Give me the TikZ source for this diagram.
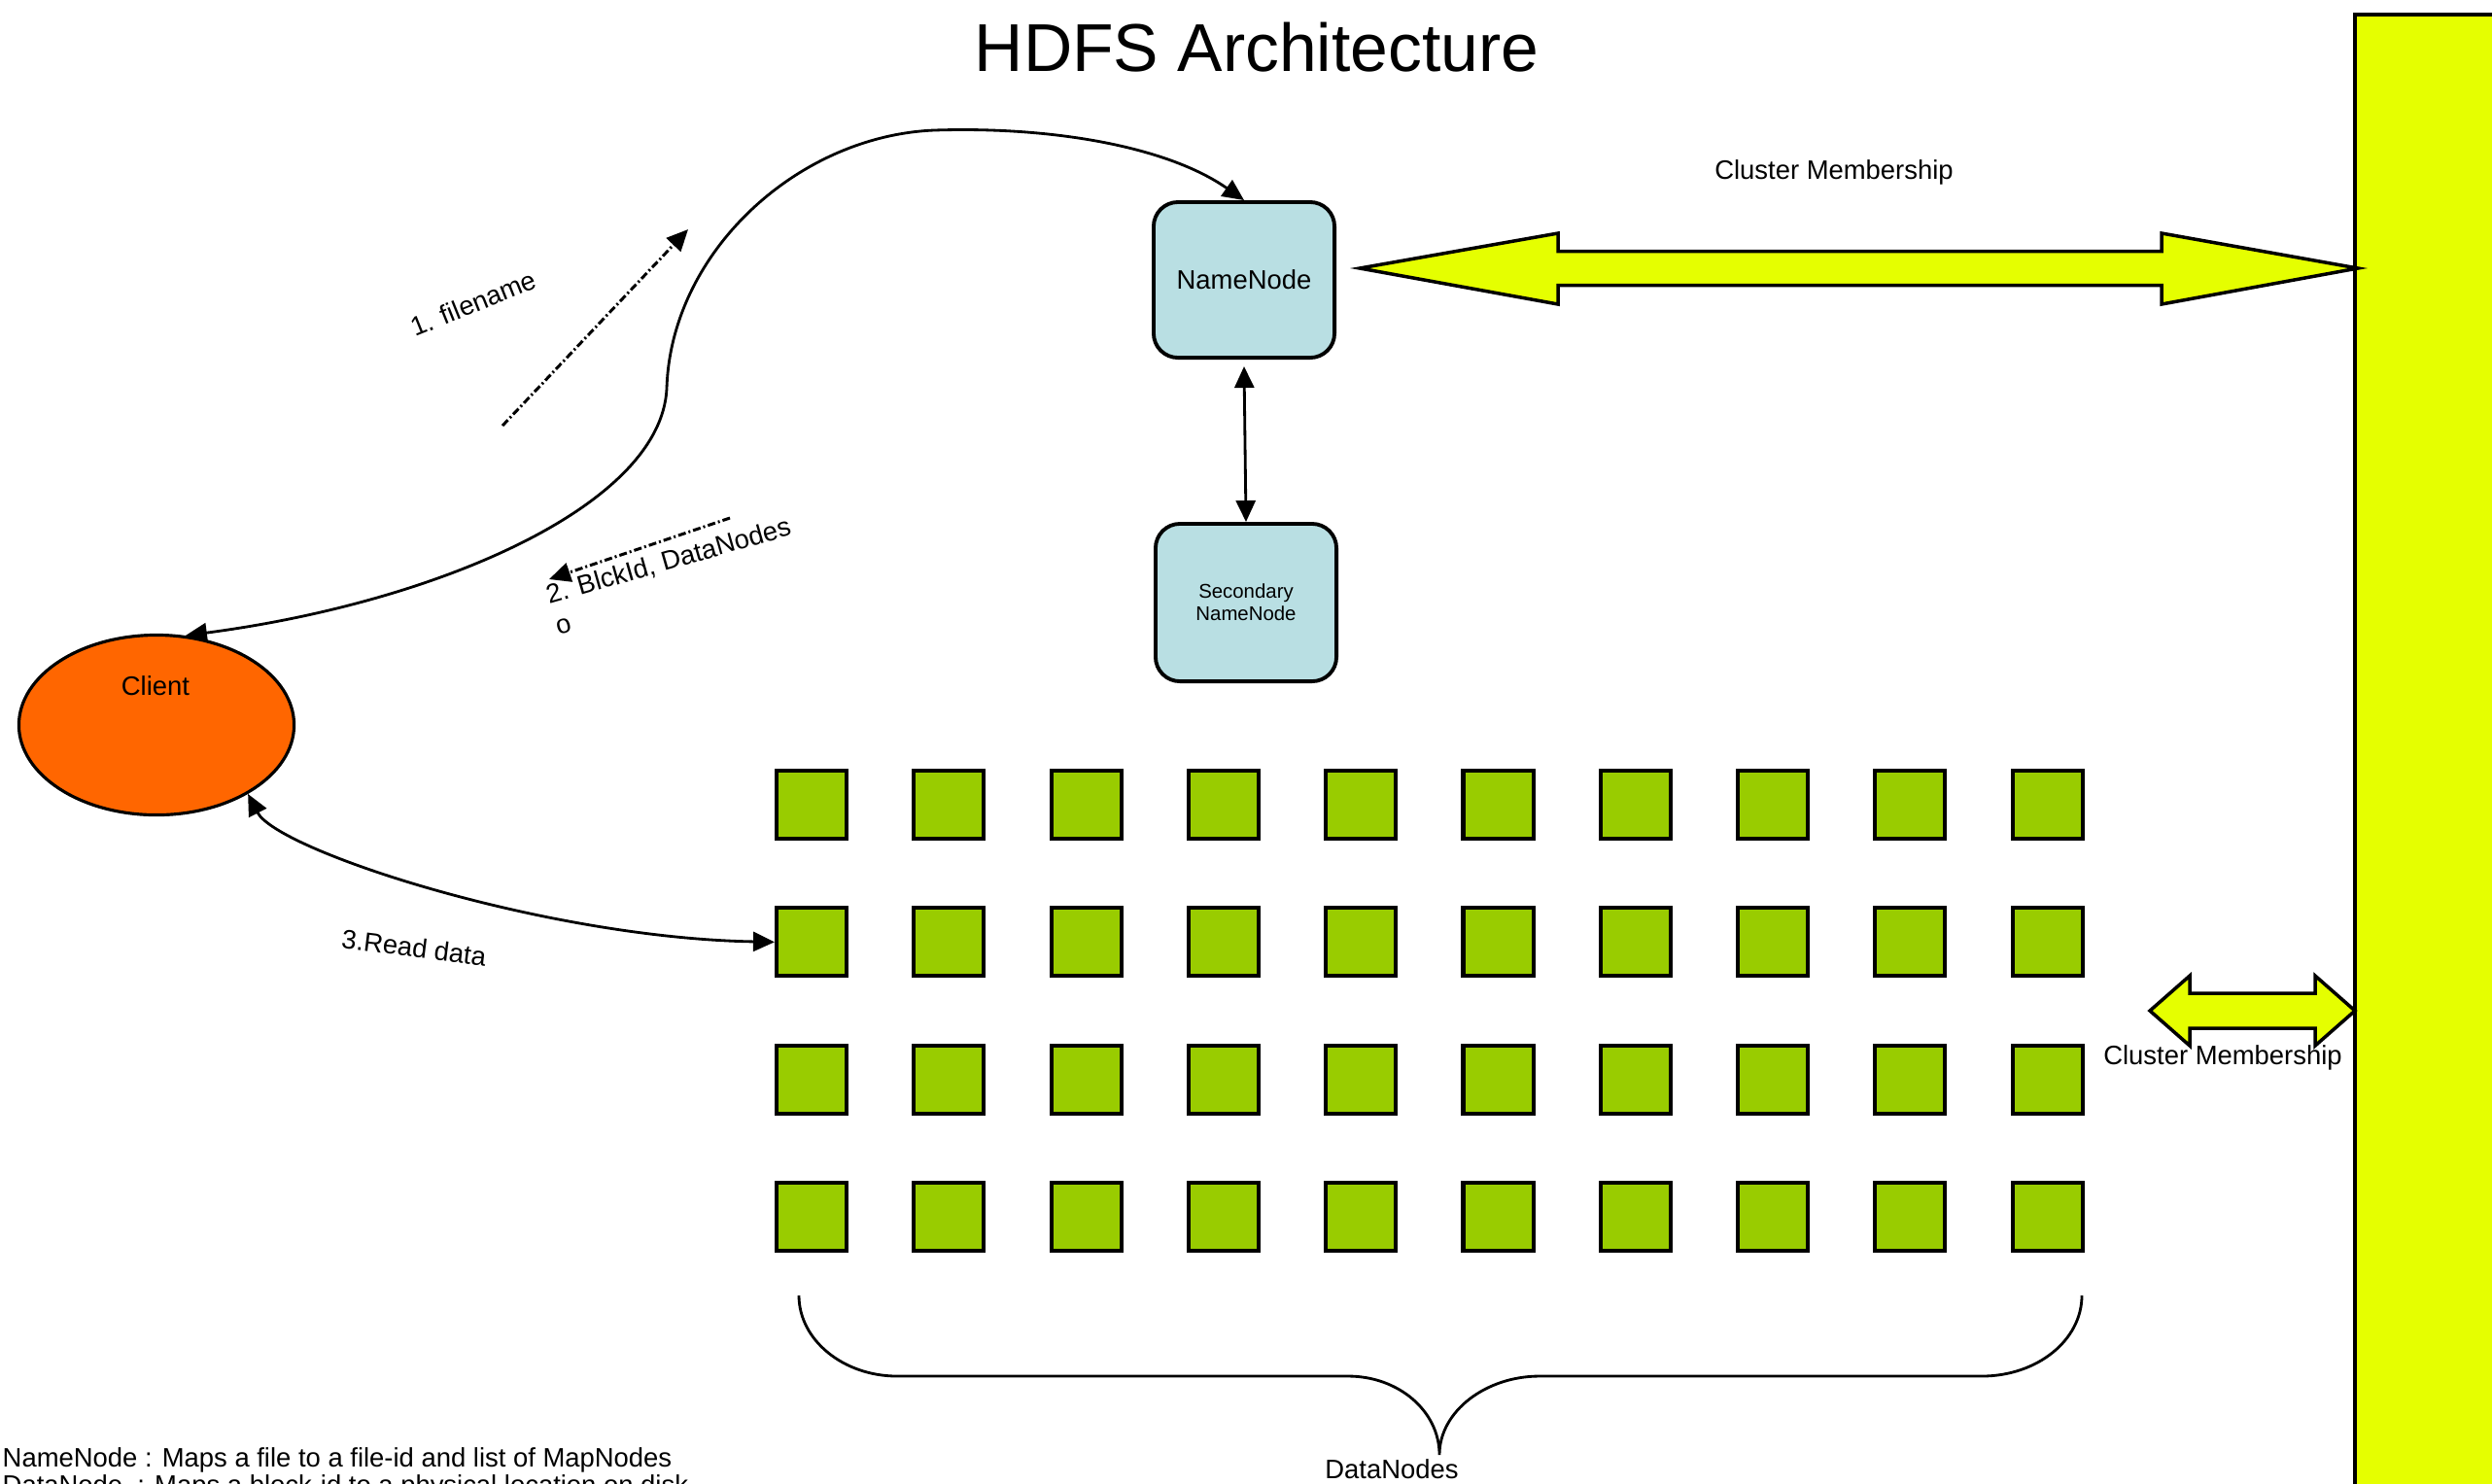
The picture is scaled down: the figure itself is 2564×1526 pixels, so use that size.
\documentclass[tikz,border=0pt]{standalone}
\usepackage{fontspec}
\setmainfont{Liberation Sans}
\usetikzlibrary{arrows.meta,shapes.geometric}
\definecolor{nnblue}{HTML}{B9DFE3}
\definecolor{dngreen}{HTML}{99CC00}
\definecolor{cmyellow}{HTML}{E5FF00}
\definecolor{clorange}{HTML}{FF6600}
\newcommand{\lblfont}{\fontsize{7.8}{9}\selectfont}
\begin{document}
\begin{tikzpicture}[x=0.01cm,y=-0.01cm,
  nnbox/.style={draw, line width=1.1pt, fill=nnblue, rounded corners=0.25cm, minimum width=1.86cm, minimum height=1.6cm, inner sep=0pt, align=center},
  dnbox/.style={draw, line width=1.15pt, fill=dngreen, minimum width=0.72cm, minimum height=0.70cm, inner sep=0pt},
  clientshape/.style={ellipse, draw, line width=0.9pt, fill=clorange, minimum width=2.83cm, minimum height=1.85cm, inner sep=0pt},
  lbl/.style={font=\lblfont, inner sep=0pt},
  conn/.style={line width=0.8pt},
  tipend/.style={-{Triangle[length=2.2mm,width=2mm]}},
  tipboth/.style={{Triangle[length=2.2mm,width=2mm]}-{Triangle[length=2.2mm,width=2mm]}},
  bigarrow/.style={draw, line width=1pt, fill=cmyellow, line join=miter},
  dashdot/.style={line width=0.85pt, dash pattern=on 0.8mm off 0.3mm on 0.2mm off 0.3mm},
]
\useasboundingbox (0,0) rectangle (2564,1526);
\clip (0,0) rectangle (2564,1526);

% title
\node[font=\fontsize{19.8}{24}\selectfont, inner sep=0pt] (title) at (1293,49) {HDFS Architecture};

% right bar
\draw[line width=1.2pt, fill=cmyellow] (2423,15) rectangle (2700,1700);

% cluster membership arrows
\draw[bigarrow] (1399,276) -- (1603,240) -- (1603,258.5) -- (2224,258.5) -- (2224,240) -- (2426,276)
  -- (2224,313) -- (2224,293.5) -- (1603,293.5) -- (1603,313) -- cycle;
\node[lbl] (cm1) at (1887,177) {Cluster Membership};
\draw[bigarrow] (2212,1040) -- (2253,1004) -- (2253,1022) -- (2382,1022) -- (2382,1004) -- (2423,1040)
  -- (2382,1076) -- (2382,1058) -- (2253,1058) -- (2253,1076) -- cycle;
\node[lbl] (cm2) at (2287,1088) {Cluster Membership};

% name nodes
\node[nnbox, font=\lblfont] (nn) at (1280,288) {NameNode};
\node[nnbox, minimum height=1.62cm, font=\fontsize{5.8}{6.5}\selectfont] (snn) at (1282,620) {Secondary\\NameNode};

% client
\node[clientshape] (client) at (161,746) {};
\node[lbl] (clientlbl) at (160,706) {Client};

% data nodes
\foreach \r in {1,...,4}
  \foreach \c in {1,...,10}
    \node[dnbox] (dn-\r-\c) at ({835+(\c-1)*141.3},{828+(\r-1)*141.3}) {};

% connectors
\draw[conn, tipboth] (client.72) .. controls (450,620) and (680,520) .. (686,400)
  .. controls (690,260) and (820,140) .. (961,134)
  .. controls (1080,130) and (1200,150) .. (nn.north);
\draw[conn, tipboth] ([yshift=-0.07cm]nn.south) -- (snn.north);
\draw[conn, tipboth] (client.-37) .. controls (285,875) and (560,965) .. (dn-2-1.west);

\coordinate (fnA) at (517,438);
\coordinate (fnB) at (708,236);
\draw[dashdot, tipend] (fnA) -- (fnB);
\coordinate (bkA) at (751,533);
\coordinate (bkB) at (565,596);
\draw[dashdot, tipend] (bkA) -- (bkB);

\node[lbl, rotate=22] (l1) at (487,312) {1. filename};
\node[lbl, rotate=16] (l2) at (688,578) {2. BlckId, DataNodes};
\node[lbl, rotate=16] (l2o) at (580,644) {o};
\node[lbl, rotate=-7] (l3) at (426,975) {3.Read data};

% brace
\draw[conn] (822,1333) .. controls (822,1379) and (868,1416) .. (923,1416) -- (1387,1416)
  .. controls (1439,1416) and (1481,1452) .. (1481,1497)
  .. controls (1481,1452) and (1529,1416) .. (1584,1416) -- (2039,1416)
  .. controls (2096,1416) and (2142,1379) .. (2142,1333);
\node[lbl] (dnlbl) at (1432,1512) {DataNodes};

% legend
\node[inner sep=0pt, align=left, anchor=north west, font=\fontsize{7.8}{7.8}\selectfont] (legend) at (2,1489)
  {NameNode : Maps a file to a file-id and list of MapNodes\\DataNode\ \ : Maps a block-id to a physical location on disk};
\end{tikzpicture}
\end{document}
